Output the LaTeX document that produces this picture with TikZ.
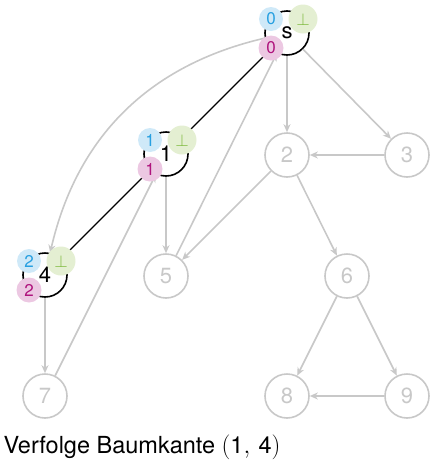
\documentclass[tikz,border=0pt]{standalone}
\usepackage{fontspec}
\setmainfont{TeX Gyre Heros}
\usetikzlibrary{arrows.meta, calc}

\definecolor{edgegray}{RGB}{200,200,200}
\definecolor{numfill}{RGB}{207,233,248}
\definecolor{numtext}{RGB}{40,160,225}
\definecolor{parfill}{RGB}{228,239,210}
\definecolor{partext}{RGB}{125,185,60}
\definecolor{lowfill}{RGB}{236,200,226}
\definecolor{lowtext}{RGB}{175,20,125}

\begin{document}
\begin{tikzpicture}[
        x=1pt, y=-1pt,
        >={Stealth[length=8pt, width=7pt, inset=2.5pt]},
        vertex/.style={circle, draw=edgegray, line width=1.6pt, minimum size=44pt,
            inner sep=0pt, text=edgegray, font=\fontsize{22}{22}\selectfont},
        active/.style={vertex, draw=black, text=black},
        grayedge/.style={->, draw=edgegray, line width=1.6pt},
        treeedge/.style={->, draw=black, line width=1.4pt},
        badge/.style={circle, inner sep=0pt, minimum size=24pt, font=\fontsize{17}{17}\selectfont},
        num/.style={badge, fill=numfill, text=numtext},
        parent/.style={badge, fill=parfill, text=partext, minimum size=29pt},
        low/.style={badge, fill=lowfill, text=lowtext, minimum size=25pt}
    ]
    \useasboundingbox (0,0) rectangle (436,464);

    % vertices
    \node[active] (s) at (287,33) {s};
    \node[active] (1) at (166,154) {1};
    \node[active] (4) at (45,275) {4};
    \node[vertex] (2) at (287,155) {2};
    \node[vertex] (3) at (407,155) {3};
    \node[vertex] (5) at (166,276) {5};
    \node[vertex] (6) at (347,276) {6};
    \node[vertex] (7) at (45,396) {7};
    \node[vertex] (8) at (287,396) {8};
    \node[vertex] (9) at (407,396) {9};

    % remaining edges
    \draw[grayedge] (s) -- (2);
    \draw[grayedge] (s) -- (3);
    \draw[grayedge] (s) to[bend right=32] (4);
    \draw[grayedge] (5) -- (s);
    \draw[grayedge] (2) -- (5);
    \draw[grayedge] (3) -- (2);
    \draw[grayedge] (2) -- (6);
    \draw[grayedge] (1) -- (5);
    \draw[grayedge] (7) -- (1);
    \draw[grayedge] (4) -- (7);
    \draw[grayedge] (6) -- (8);
    \draw[grayedge] (6) -- (9);
    \draw[grayedge] (9) -- (8);

    % tree edges
    \draw[treeedge] (s) -- (1);
    \draw[treeedge] (1) -- (4);

    % dfs number, parent and low value
    \node[num] (s-num) at ($(s)+(-16,-14)$) {0};
    \node[parent] (s-par) at ($(s)+(16,-14)$) {$\perp$};
    \node[low] (s-low) at ($(s)+(-16,15)$) {0};
    \node[num] (1-num) at ($(1)+(-16,-14)$) {1};
    \node[parent] (1-par) at ($(1)+(16,-14)$) {$\perp$};
    \node[low] (1-low) at ($(1)+(-16,15)$) {1};
    \node[num] (4-num) at ($(4)+(-16,-14)$) {2};
    \node[parent] (4-par) at ($(4)+(16,-14)$) {$\perp$};
    \node[low] (4-low) at ($(4)+(-16,15)$) {2};

    \node[anchor=west, font=\fontsize{23.5}{24}\selectfont] (caption) at (0,447)
        {Verfolge Baumkante $(\textrm{1},\,\textrm{4})$};
\end{tikzpicture}
\end{document}
